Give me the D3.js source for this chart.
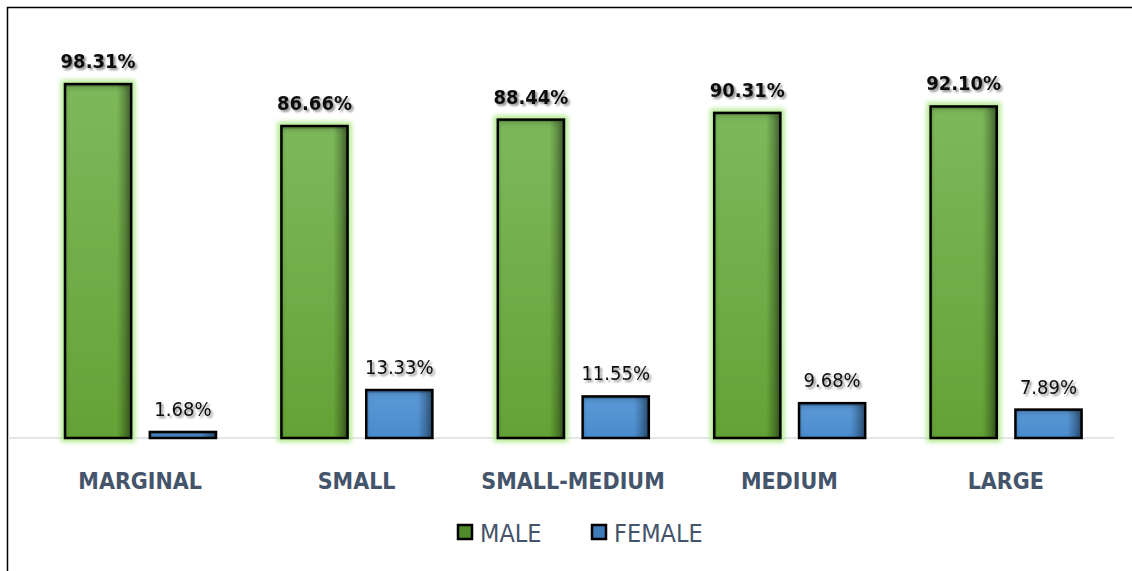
<!DOCTYPE html>
<html>
<head>
<meta charset="utf-8">
<script src="https://cdn.jsdelivr.net/npm/d3@7/dist/d3.min.js"></script>
<style>
  body { margin: 0; background: #fff; }
  svg { display: block; }
</style>
</head>
<body>
<div id="chart"></div>
<script>
var categories = ["MARGINAL", "SMALL", "SMALL-MEDIUM", "MEDIUM", "LARGE"];
var seriesNames = ["MALE", "FEMALE"];
var maleValues = [98.31, 86.66, 88.44, 90.31, 92.10];
var femaleValues = [1.68, 13.33, 11.55, 9.68, 7.89];

var width = 1132, height = 571;
var margin = { top: 78, right: 18, bottom: 133, left: 32 };
var font = "'Liberation Sans Narrow', 'DejaVu Sans Condensed', 'Roboto', sans-serif";

var svg = d3.select("#chart").append("svg")
  .attr("width", width)
  .attr("height", height);

var defs = svg.append("defs");

// base fills (vertical)
function vGradient(id, top, bottom) {
  var g = defs.append("linearGradient").attr("id", id)
    .attr("x1", "0").attr("x2", "0").attr("y1", "0").attr("y2", "1");
  g.append("stop").attr("offset", "0").attr("stop-color", top);
  g.append("stop").attr("offset", "1").attr("stop-color", bottom);
}
vGradient("gMale", "#7db95b", "#64a236");
vGradient("gFemale", "#5b9ad8", "#4a8bcc");

// inner shading, right edge
var hs = defs.append("linearGradient").attr("id", "sideShade")
  .attr("x1", "0").attr("x2", "1").attr("y1", "0").attr("y2", "0");
hs.append("stop").attr("offset", "0").attr("stop-color", "#000").attr("stop-opacity", 0.12);
hs.append("stop").attr("offset", "0.06").attr("stop-color", "#000").attr("stop-opacity", 0);
hs.append("stop").attr("offset", "0.78").attr("stop-color", "#000").attr("stop-opacity", 0);
hs.append("stop").attr("offset", "1").attr("stop-color", "#000").attr("stop-opacity", 0.42);

// inner shading along the top edge
var innerShadow = defs.append("filter").attr("id", "inner")
  .attr("x", "0").attr("y", "0").attr("width", "100%").attr("height", "100%");
innerShadow.append("feFlood").attr("flood-color", "#000").attr("flood-opacity", 0.45).attr("result", "f");
innerShadow.append("feGaussianBlur").attr("in", "SourceAlpha").attr("stdDeviation", 3).attr("result", "blur");
innerShadow.append("feOffset").attr("in", "blur").attr("dx", -2).attr("dy", 3).attr("result", "off");
innerShadow.append("feComposite").attr("in", "f").attr("in2", "off").attr("operator", "out").attr("result", "edge");
innerShadow.append("feComposite").attr("in", "edge").attr("in2", "SourceAlpha").attr("operator", "in").attr("result", "shade");
var im = innerShadow.append("feMerge");
im.append("feMergeNode").attr("in", "SourceGraphic");
im.append("feMergeNode").attr("in", "shade");

var glow = defs.append("filter").attr("id", "glow")
  .attr("x", "-30%").attr("y", "-10%").attr("width", "160%").attr("height", "120%");
glow.append("feMorphology").attr("in", "SourceAlpha").attr("operator", "dilate").attr("radius", 4).attr("result", "d");
glow.append("feGaussianBlur").attr("in", "d").attr("stdDeviation", 2.5).attr("result", "b");
glow.append("feFlood").attr("flood-color", "#b0e98c");
glow.append("feComposite").attr("in2", "b").attr("operator", "in").attr("result", "g");
var gm = glow.append("feMerge");
gm.append("feMergeNode").attr("in", "g");
gm.append("feMergeNode").attr("in", "SourceGraphic");

var shadow = defs.append("filter").attr("id", "txtShadow")
  .attr("x", "-10%").attr("y", "-30%").attr("width", "130%").attr("height", "170%");
shadow.append("feGaussianBlur").attr("in", "SourceAlpha").attr("stdDeviation", 1.2).attr("result", "b");
shadow.append("feOffset").attr("in", "b").attr("dx", 1.5).attr("dy", 1.5).attr("result", "o");
shadow.append("feComponentTransfer").attr("in", "o").attr("result", "o2")
  .append("feFuncA").attr("type", "linear").attr("slope", 0.45);
var sm = shadow.append("feMerge");
sm.append("feMergeNode").attr("in", "o2");
sm.append("feMergeNode").attr("in", "SourceGraphic");

// outer frame
svg.append("path")
  .attr("d", "M7.5," + height + "V7.5H" + width)
  .attr("fill", "none").attr("stroke", "#000").attr("stroke-width", 1.5);

var x0 = d3.scaleBand().domain(categories)
  .range([margin.left, width - margin.right]).paddingInner(0).paddingOuter(0);
var x1 = d3.scaleBand().domain(seriesNames)
  .range([33, 184]).paddingInner(0.22);
var y = d3.scaleLinear().domain([0, 100]).range([height - margin.bottom, margin.top]);

// baseline
svg.append("line")
  .attr("x1", 8).attr("x2", width - margin.right)
  .attr("y1", y(0)).attr("y2", y(0))
  .attr("stroke", "#d9dde3").attr("stroke-width", 1.5);

var data = categories.map(function(c, i) {
  return { cat: c, vals: [
    { s: "MALE", v: maleValues[i] },
    { s: "FEMALE", v: femaleValues[i] }
  ] };
});

var groups = svg.selectAll(".grp").data(data).enter().append("g")
  .attr("class", "grp")
  .attr("transform", function(d) { return "translate(" + x0(d.cat) + ",0)"; });

var bars = groups.selectAll(".bar").data(function(d) { return d.vals; }).enter()
  .append("g").attr("class", "bar");

bars.append("rect")
  .attr("x", function(d) { return x1(d.s); })
  .attr("y", function(d) { return y(d.v); })
  .attr("width", x1.bandwidth())
  .attr("height", function(d) { return y(0) - y(d.v); })
  .attr("fill", function(d) { return d.s === "MALE" ? "#7db95b" : "#fff"; })
  .attr("filter", function(d) { return d.s === "MALE" ? "url(#glow)" : null; });

bars.append("rect")
  .attr("x", function(d) { return x1(d.s); })
  .attr("y", function(d) { return y(d.v); })
  .attr("width", x1.bandwidth())
  .attr("height", function(d) { return y(0) - y(d.v); })
  .attr("fill", function(d) { return d.s === "MALE" ? "url(#gMale)" : "url(#gFemale)"; })
  .attr("filter", "url(#inner)");

bars.append("rect")
  .attr("x", function(d) { return x1(d.s); })
  .attr("y", function(d) { return y(d.v); })
  .attr("width", x1.bandwidth())
  .attr("height", function(d) { return y(0) - y(d.v); })
  .attr("fill", "url(#sideShade)")
  .attr("stroke", "#000")
  .attr("stroke-width", 2.5);

bars.append("text")
  .attr("x", function(d) { return x1(d.s) + x1.bandwidth() / 2; })
  .attr("y", function(d) { return y(d.v) - 16; })
  .attr("text-anchor", "middle")
  .attr("font-family", font)
  .attr("font-size", 20)
  .attr("font-weight", function(d) { return d.s === "MALE" ? "bold" : "normal"; })
  .attr("fill", "#0d0d0d")
  .attr("filter", "url(#txtShadow)")
  .text(function(d) { return d.v.toFixed(2) + "%"; });

groups.append("text")
  .attr("x", x0.bandwidth() / 2)
  .attr("y", 489)
  .attr("text-anchor", "middle")
  .attr("font-family", font)
  .attr("font-size", 23)
  .attr("font-weight", "bold")
  .attr("fill", "#44546a")
  .text(function(d) { return d.cat; });

// legend
var legendX = [458, 592];
var legend = svg.selectAll(".leg").data(seriesNames).enter().append("g")
  .attr("class", "leg")
  .attr("transform", function(d, i) { return "translate(" + legendX[i] + ",525)"; });

legend.append("rect")
  .attr("x", 0).attr("y", 0).attr("width", 14).attr("height", 14)
  .attr("fill", function(d) { return d === "MALE" ? "#4f8a2b" : "#3f7bb8"; })
  .attr("stroke", "#000").attr("stroke-width", 2.5);

legend.append("text")
  .attr("x", 22).attr("y", 17)
  .attr("font-family", font)
  .attr("font-size", 25)
  .attr("fill", "#44546a")
  .text(function(d) { return d; });
</script>
</body>
</html>
